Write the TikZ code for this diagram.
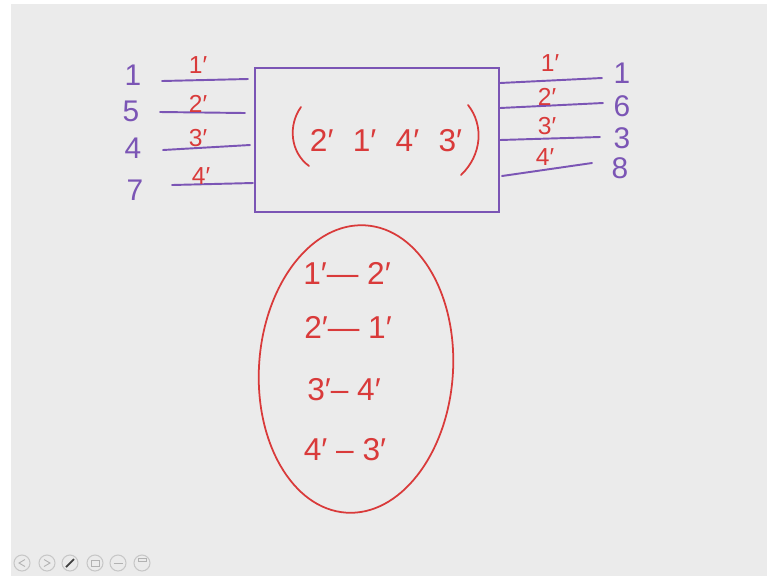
\documentclass[tikz,border=0pt]{standalone}
\usepackage{fontspec}
\setmainfont{Liberation Sans}
\usetikzlibrary{positioning, shapes.geometric}
\definecolor{pen}{HTML}{7B55B5}
\definecolor{ink}{HTML}{D93A3A}
\definecolor{board}{HTML}{EBEBEB}
\tikzset{
  wire/.style={draw=pen, line width=1.1pt, line cap=round},
  pin/.style={text=pen, font=\fontsize{17}{17}\selectfont, inner sep=0pt},
  lab/.style={text=ink, font=\fontsize{14}{14}\selectfont, inner sep=0pt},
  blk/.style={draw=pen, line width=1.1pt, minimum width=4.88cm, minimum height=2.88cm, inner sep=0pt},
  pair/.style={text=ink, font=\fontsize{18}{18}\selectfont, inner sep=0pt},
  paren/.style={draw=ink, line width=1pt, line cap=round},
  blob/.style={ellipse, draw=ink, line width=1pt, minimum width=3.88cm, minimum height=5.76cm, inner sep=0pt},
  btn/.style={circle, draw=black!22, line width=0.6pt, minimum size=0.32cm, inner sep=0pt}
}

\begin{document}
\begin{tikzpicture}[x=0.02cm, y=-0.02cm]
		% slide
		\fill[white] (0,0) rectangle (767,576);
		\fill[board] (11,4) rectangle (767,576);
		\useasboundingbox (0,0) rectangle (767,576);
		% block
		\node[blk] (box) at (377,140) {};
		\node[pair] (perm) at (386,141) {2′\hskip 11pt 1′\hskip 11pt 4′\hskip 11pt 3′};
		\coordinate (lpa) at (301,107);
		\coordinate (lpb) at (309,166);
		\coordinate (rpa) at (468,105);
		\coordinate (rpb) at (461,175);
		\draw[paren] (lpa) .. controls (288,125) and (290,152) .. (lpb);
		\draw[paren] (rpa) .. controls (484,125) and (482,155) .. (rpb);
		% inputs
		\coordinate (a1) at (162,81);  \coordinate (b1) at (248,79);
		\coordinate (a2) at (160,112); \coordinate (b2) at (245,113);
		\coordinate (a3) at (163,150); \coordinate (b3) at (250,145);
		\coordinate (a4) at (172,185); \coordinate (b4) at (253,183);
		\draw[wire] (a1) -- (b1);
		\draw[wire] (a2) -- (b2);
		\draw[wire] (a3) -- (b3);
		\draw[wire] (a4) -- (b4);
		\node[pin] (in1) at (133,75) {1};
		\node[pin] (in2) at (131,111) {5};
		\node[pin] (in3) at (133,148) {4};
		\node[pin] (in4) at (135,190) {7};
		\node[lab] (il1) at (198,65) {1′};
		\node[lab] (il2) at (198,104) {2′};
		\node[lab] (il3) at (198,138) {3′};
		\node[lab] (il4) at (201,176) {4′};
		% outputs
		\coordinate (c1) at (500,83);  \coordinate (d1) at (602,78);
		\coordinate (c2) at (500,108); \coordinate (d2) at (603,103);
		\coordinate (c3) at (500,140); \coordinate (d3) at (600,137);
		\coordinate (c4) at (502,176); \coordinate (d4) at (592,163);
		\draw[wire] (c1) -- (d1);
		\draw[wire] (c2) -- (d2);
		\draw[wire] (c3) -- (d3);
		\draw[wire] (c4) -- (d4);
		\node[pin] (out1) at (622,73) {1};
		\node[pin] (out2) at (622,106) {6};
		\node[pin] (out3) at (622,138) {3};
		\node[pin] (out4) at (620,168) {8};
		\node[lab] (ol1) at (550,63) {1′};
		\node[lab] (ol2) at (547,97) {2′};
		\node[lab] (ol3) at (547,126) {3′};
		\node[lab] (ol4) at (545,157) {4′};
		% swaps
		\node[blob, rotate=-4] (swap) at (356,369) {};
		\node[pair] (s1) at (347,273) {1′— 2′};
		\node[pair] (s2) at (348,327) {2′— 1′};
		\node[pair] (s3) at (344,390) {3′– 4′};
		\node[pair] (s4) at (345,450) {4′ – 3′};
		% player bar
		\node[btn] (k1) at (22,563) {};
		\node[btn] (k2) at (47,563) {};
		\node[btn] (k3) at (70,563) {};
		\node[btn] (k4) at (95,563) {};
		\node[btn] (k5) at (118,563) {};
		\node[btn] (k6) at (142,563) {};
		\draw[black!30, line width=0.5pt] ([xshift=0.6mm,yshift=0.7mm]k1.center) -- ([xshift=-0.6mm]k1.center) -- ([xshift=0.6mm,yshift=-0.7mm]k1.center);
		\draw[black!30, line width=0.5pt] ([xshift=-0.6mm,yshift=0.7mm]k2.center) -- ([xshift=0.6mm]k2.center) -- ([xshift=-0.6mm,yshift=-0.7mm]k2.center);
		\draw[black!75, line width=1pt] ([xshift=-0.8mm,yshift=-0.8mm]k3.center) -- ([xshift=0.8mm,yshift=0.8mm]k3.center);
		\draw[black!30, line width=0.5pt] ([xshift=-0.8mm,yshift=-0.6mm]k4.center) rectangle ([xshift=0.8mm,yshift=0.6mm]k4.center);
		\draw[black!30, line width=0.5pt] ([xshift=-0.9mm]k5.center) -- ([xshift=0.9mm]k5.center);
		\draw[black!30, line width=0.5pt] ([xshift=-0.8mm,yshift=0.3mm]k6.center) rectangle ([xshift=0.8mm,yshift=1mm]k6.center);
	\end{tikzpicture}
\end{document}
